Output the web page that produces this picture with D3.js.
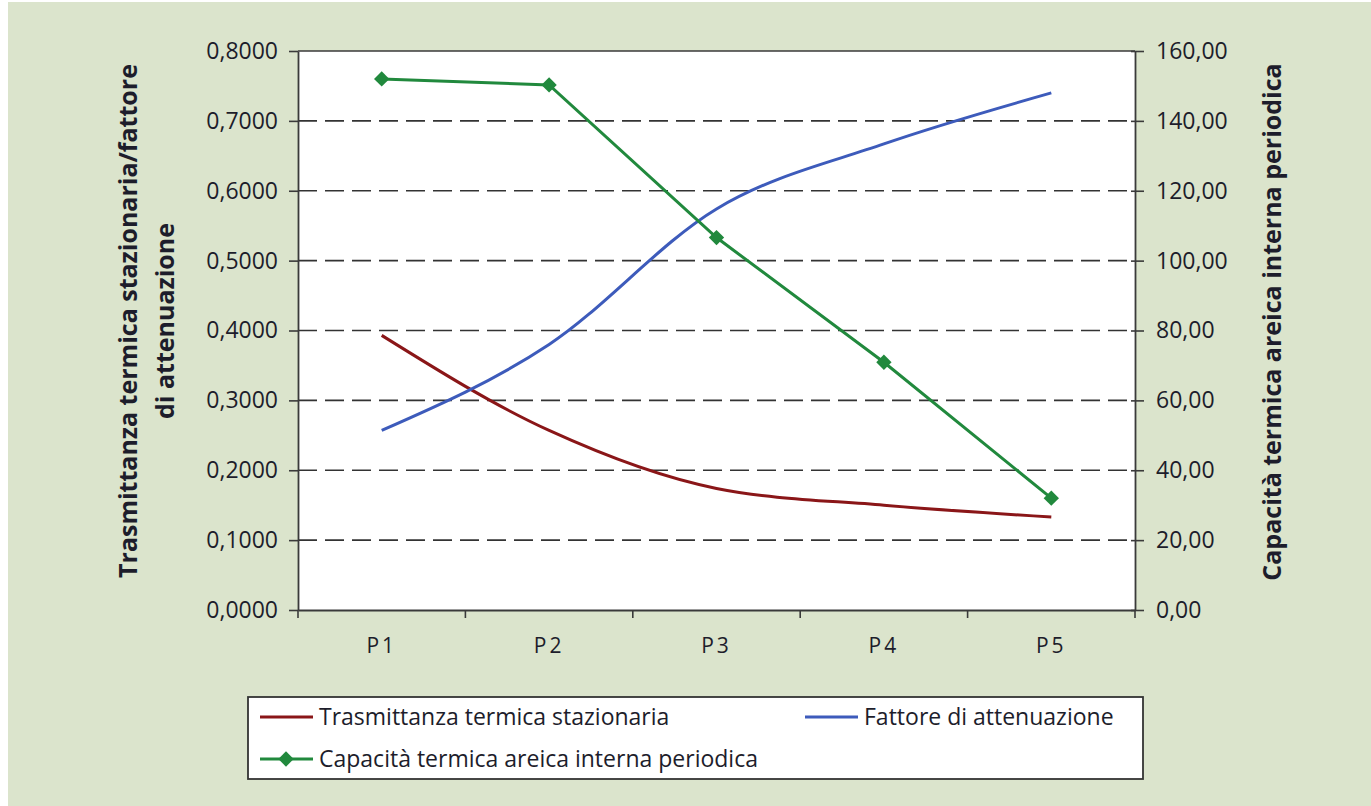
<!DOCTYPE html>
<html>
<head>
<meta charset="utf-8">
<script src="https://cdn.jsdelivr.net/npm/d3@7"></script>
<style>
  html, body { margin: 0; padding: 0; background: #ffffff; }
  svg { display: block; }
  text { font-family: "Open Sans", "Noto Sans", sans-serif; fill: #1d1d2b; }
</style>
</head>
<body>
<svg id="chart" width="1371" height="806"></svg>
<script>
// Categories and series
const categories = ["P1", "P2", "P3", "P4", "P5"];
const trasmittanza = [0.393, 0.257, 0.174, 0.150, 0.133];
const fattore = [0.257, 0.380, 0.574, 0.667, 0.740];
const capacita = [152.0, 150.3, 106.6, 70.9, 32.0];

const leftTicks = [0, 0.1, 0.2, 0.3, 0.4, 0.5, 0.6, 0.7, 0.8];
const rightTicks = [0, 20, 40, 60, 80, 100, 120, 140, 160];

const seriesNames = [
  "Trasmittanza termica stazionaria",
  "Fattore di attenuazione",
  "Capacità termica areica interna periodica"
];
const leftTitle = ["Trasmittanza termica stazionaria/fattore", "di attenuazione"];
const rightTitle = "Capacità termica areica interna periodica";

const colors = { red: "#8a1618", blue: "#3d5bbb", green: "#21893d", grid: "#333333", axis: "#3a3a3a", bg: "#dbe4cc" };

const svg = d3.select("#chart");
const W = 1371, H = 806;
const plot = { left: 298, right: 1135, top: 51, bottom: 610 };

// page background
svg.append("rect").attr("x", 0).attr("y", 0).attr("width", W).attr("height", H).attr("fill", "#ffffff");
svg.append("rect").attr("x", 8).attr("y", 2).attr("width", W - 8).attr("height", H - 2).attr("fill", colors.bg);

// plot area
svg.append("rect").attr("x", plot.left).attr("y", plot.top)
  .attr("width", plot.right - plot.left).attr("height", plot.bottom - plot.top).attr("fill", "#ffffff");

const x = d3.scaleBand().domain(categories).range([plot.left, plot.right]).padding(0);
const cx = c => x(c) + x.bandwidth() / 2;
const yL = d3.scaleLinear().domain([0, 0.8]).range([plot.bottom, plot.top]);
const yR = d3.scaleLinear().domain([0, 160]).range([plot.bottom, plot.top]);

const fmtL = v => d3.format(".4f")(v).replace(".", ",");
const fmtR = v => d3.format(".2f")(v).replace(".", ",");

// dashed gridlines
svg.append("g").selectAll("line").data(leftTicks.filter(t => t > 0 && t < 0.8)).join("line")
  .attr("x1", plot.left).attr("x2", plot.right)
  .attr("y1", d => yL(d)).attr("y2", d => yL(d))
  .attr("stroke", colors.grid).attr("stroke-width", 1.6).attr("stroke-dasharray", "19,8");
// top border of the plot area
svg.append("line").attr("x1", plot.left).attr("x2", plot.right)
  .attr("y1", yL(0.8)).attr("y2", yL(0.8)).attr("stroke", colors.axis).attr("stroke-width", 1.6);

// left axis
const gL = svg.append("g").attr("transform", `translate(${plot.left},0)`)
  .call(d3.axisLeft(yL).tickValues(leftTicks).tickFormat(fmtL).tickSizeInner(9).tickSizeOuter(0).tickPadding(11));
// right axis
const gR = svg.append("g").attr("transform", `translate(${plot.right},0)`)
  .call(d3.axisRight(yR).tickValues(rightTicks).tickFormat(fmtR).tickSizeInner(9).tickSizeOuter(0).tickPadding(12));
[gL, gR].forEach(g => {
  g.select(".domain").attr("stroke", colors.axis).attr("stroke-width", 1.8);
  g.selectAll(".tick line").attr("stroke", colors.axis).attr("stroke-width", 1.6);
  g.selectAll(".tick text").style("font-size", "23px").attr("fill", "#1d1d2b");
});
gR.selectAll(".tick line").attr("x1", -4);

// bottom axis: labels at category centres, ticks at category boundaries
const gB = svg.append("g").attr("transform", `translate(0,${plot.bottom})`)
  .call(d3.axisBottom(x).tickSize(0).tickPadding(28));
gB.select(".domain").attr("stroke", colors.axis).attr("stroke-width", 1.8);
gB.selectAll(".tick text").style("font-size", "21px").attr("letter-spacing", "3px").attr("fill", "#1d1d2b");
const bounds = categories.map(c => x(c)).concat([plot.right]);
gB.append("g").selectAll("line").data(bounds).join("line")
  .attr("x1", d => d).attr("x2", d => d).attr("y1", 0).attr("y2", 8)
  .attr("stroke", colors.axis).attr("stroke-width", 1.6);

// axis titles
svg.append("text")
  .attr("transform", `translate(137,321) rotate(-90)`)
  .attr("text-anchor", "middle").style("font-size", "25px").style("font-weight", "bold")
  .selectAll("tspan").data(leftTitle).join("tspan")
  .attr("x", 0).attr("dy", (d, i) => i === 0 ? 0 : 37).text(d => d);
svg.append("text")
  .attr("transform", `translate(1281,322) rotate(-90)`)
  .attr("text-anchor", "middle").style("font-size", "25px").style("font-weight", "bold")
  .text(rightTitle);

// series lines
const smooth = d3.line().curve(d3.curveMonotoneX);
svg.append("path")
  .attr("d", smooth(categories.map((c, i) => [cx(c), yL(trasmittanza[i])])))
  .attr("fill", "none").attr("stroke", colors.red).attr("stroke-width", 3);
svg.append("path")
  .attr("d", smooth(categories.map((c, i) => [cx(c), yL(fattore[i])])))
  .attr("fill", "none").attr("stroke", colors.blue).attr("stroke-width", 3);
svg.append("path")
  .attr("d", d3.line()(categories.map((c, i) => [cx(c), yR(capacita[i])])))
  .attr("fill", "none").attr("stroke", colors.green).attr("stroke-width", 3);

const diamond = d3.symbol().type(d3.symbolDiamond2).size(150);
svg.append("g").selectAll("path").data(categories).join("path")
  .attr("transform", (c, i) => `translate(${cx(c)},${yR(capacita[i])})`)
  .attr("d", diamond).attr("fill", colors.green);

// legend
const lg = svg.append("g");
lg.append("rect").attr("x", 248).attr("y", 697).attr("width", 895).attr("height", 82)
  .attr("fill", "#ffffff").attr("stroke", "#333333").attr("stroke-width", 1.8);
const legendItems = [
  { name: seriesNames[0], color: colors.red, x: 260, y: 717, marker: false },
  { name: seriesNames[1], color: colors.blue, x: 805, y: 717, marker: false },
  { name: seriesNames[2], color: colors.green, x: 260, y: 759, marker: true }
];
const li = lg.selectAll("g.item").data(legendItems).join("g").attr("class", "item")
  .attr("transform", d => `translate(${d.x},${d.y})`);
li.append("line").attr("x1", 0).attr("x2", 53).attr("y1", 0).attr("y2", 0)
  .attr("stroke", d => d.color).attr("stroke-width", 3);
li.filter(d => d.marker).append("path").attr("transform", "translate(26,0)")
  .attr("d", diamond).attr("fill", d => d.color);
li.append("text").attr("x", 59).attr("y", 0).attr("dy", "0.35em")
  .style("font-size", "23px").text(d => d.name);
</script>
</body>
</html>
